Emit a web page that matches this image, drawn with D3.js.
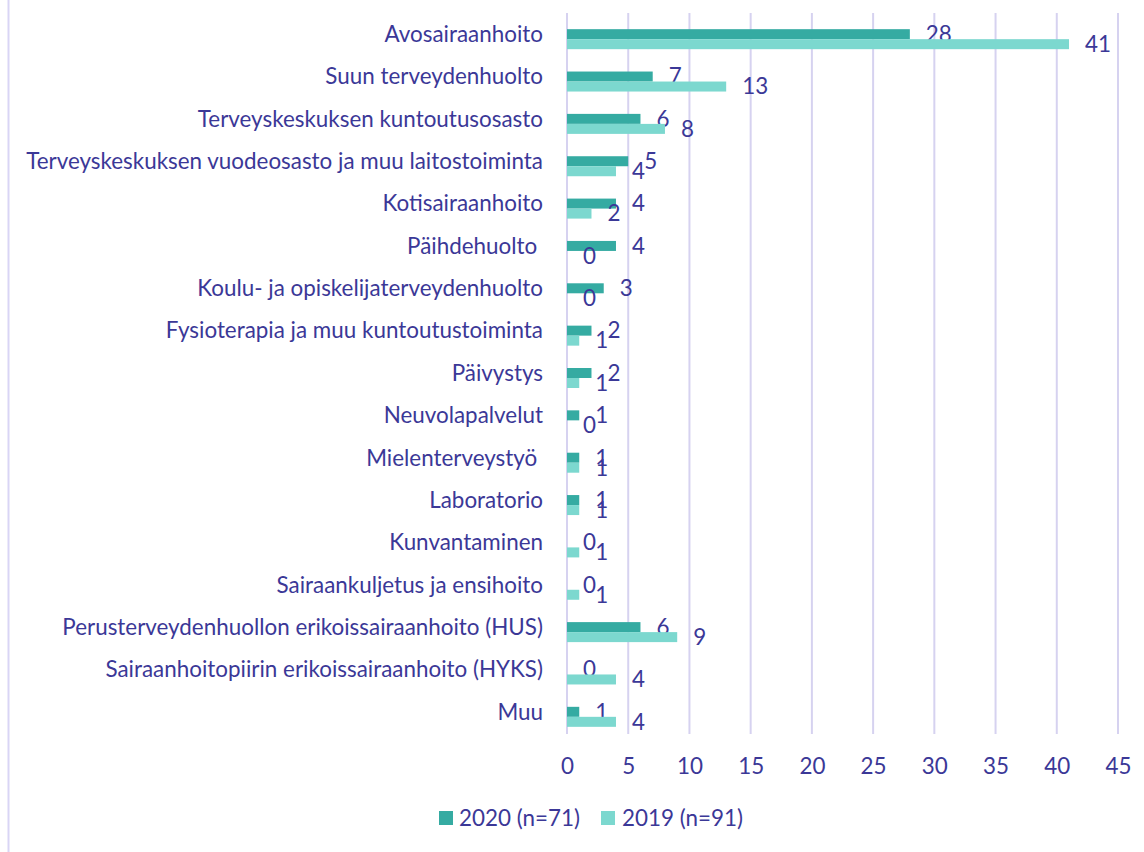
<!DOCTYPE html>
<html><head><meta charset="utf-8">
<script src="https://cdn.jsdelivr.net/npm/d3@7"></script>
<style>body{margin:0;background:#fff}svg{display:block}</style>
</head><body>
<svg id="c" width="1144" height="852"></svg>
<script>
const categories = ["Avosairaanhoito","Suun terveydenhuolto","Terveyskeskuksen kuntoutusosasto","Terveyskeskuksen vuodeosasto ja muu laitostoiminta","Kotisairaanhoito","Päihdehuolto ","Koulu- ja opiskelijaterveydenhuolto","Fysioterapia ja muu kuntoutustoiminta","Päivystys","Neuvolapalvelut","Mielenterveystyö ","Laboratorio","Kunvantaminen","Sairaankuljetus ja ensihoito","Perusterveydenhuollon erikoissairaanhoito (HUS)","Sairaanhoitopiirin erikoissairaanhoito (HYKS)","Muu"];
const values2020 = [28,7,6,5,4,4,3,2,2,1,1,1,0,0,6,0,1];
const values2019 = [41,13,8,4,2,0,0,1,1,0,1,1,1,1,9,4,4];
const xTicks = [0,5,10,15,20,25,30,35,40,45];
const seriesNames = ["2020 (n=71)","2019 (n=91)"];
const colors = ["#35aba2","#7cd8cf"];
const textColor = "#3b3897";
const gridColor = "#d6d2f0";
const FONT = "Lato, 'Open Sans', sans-serif";

const svg = d3.select("#c");
// measure font size
const probe = svg.append("text").attr("font-family",FONT).attr("font-size",20).text(categories[3]);
const w = probe.node().getComputedTextLength();
probe.remove();
const fs = 20*517/w;

svg.append("line").attr("x1",8.5).attr("x2",8.5).attr("y1",0).attr("y2",852)
  .attr("stroke","#d9d5f5").attr("stroke-width",2);

const x = d3.scaleLinear().domain([0,45]).range([567,1118]);
const y = d3.scaleBand().domain(categories).range([18,738]).padding(0);
const bw = y.bandwidth();

// gridlines
svg.append("g").selectAll("line").data(xTicks).join("line")
  .attr("x1",d=>x(d)).attr("x2",d=>x(d)).attr("y1",13).attr("y2",734)
  .attr("stroke",gridColor).attr("stroke-width",2);

// axis labels
const ax = svg.append("g").attr("transform","translate(0,766)")
  .call(d3.axisBottom(x).tickValues(xTicks).tickSize(0).tickPadding(0));
ax.select(".domain").remove();
ax.selectAll("text").attr("font-family",FONT).attr("font-size",fs).attr("fill",textColor)
  .attr("dy","0.35em");

const barH = 10;
const data = categories.map((c,i)=>({c, v:[values2020[i], values2019[i]]}));
const g = svg.append("g");
data.forEach(d=>{
  const cy = y(d.c)+bw/2;
  [0,1].forEach(s=>{
    const top = s===0 ? cy-barH : cy;
    if(d.v[s]>0){
      g.append("rect").attr("x",x(0)).attr("y",top).attr("width",x(d.v[s])-x(0)).attr("height",barH)
        .attr("fill",colors[s]);
    }
    g.append("text").attr("x",x(d.v[s])+16).attr("y",top+barH/2).attr("dy","0.35em")
      .attr("font-family",FONT).attr("font-size",fs).attr("fill",textColor).text(d.v[s]);
  });
  g.append("text").attr("x",543).attr("y",cy-5).attr("dy","0.35em").attr("text-anchor","end")
    .attr("font-family",FONT).attr("font-size",fs).attr("fill",textColor).attr("xml:space","preserve").text(d.c);
});

// legend
const leg = [{x:439,tx:459},{x:601,tx:622}];
leg.forEach((l,i)=>{
  svg.append("rect").attr("x",l.x).attr("y",811).attr("width",14).attr("height",14).attr("fill",colors[i]);
  svg.append("text").attr("x",l.tx).attr("y",818).attr("dy","0.35em").attr("font-family",FONT)
    .attr("font-size",fs).attr("fill",textColor).text(seriesNames[i]);
});
</script>
</body></html>
